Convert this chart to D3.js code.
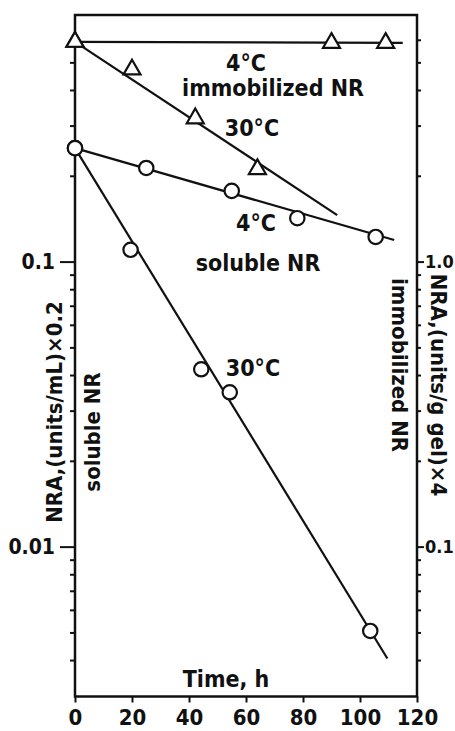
<!DOCTYPE html>
<html>
<head>
<meta charset="utf-8">
<script src="https://cdn.jsdelivr.net/npm/d3@7"></script>
<style>
    html, body { margin: 0; padding: 0; background: #fff; }
    svg { display: block; }
    text { font-family: "Liberation Sans Narrow", "DejaVu Sans Condensed", sans-serif; font-weight: bold; fill: #111; }
    .frame { fill: none; stroke: #111; stroke-width: 2.5; }
    .fit { fill: none; stroke: #111; stroke-width: 2.2; }
    .marker { fill: #fff; stroke: #111; stroke-width: 2.2; }
    .axis path { display: none; }
    .axis line { stroke: #111; stroke-width: 2; }
</style>
</head>
<body>
<script>
// time, h
var timeTicks = [0, 20, 40, 60, 80, 100, 120];

// soluble NR, NRA (units/mL) x 0.2  -> left axis, circles
var soluble4Time   = [0, 25, 55, 78, 105.5];
var soluble4Value  = [0.25, 0.213, 0.177, 0.142, 0.122];
var soluble30Time  = [0, 19.5, 44.3, 54.3, 103.6];
var soluble30Value = [0.25, 0.110, 0.0419, 0.0348, 0.00506];

// immobilized NR, NRA (units/g gel) x 4 -> right axis, triangles
var immob4Time   = [0, 90, 109];
var immob4Value  = [5.9, 5.85, 5.85];
var immob30Time  = [0, 20, 42.2, 64];
var immob30Value = [5.9, 4.72, 3.18, 2.11];

// fitted lines: [t0, v0, t1, v1]
var soluble4Fit  = [0, 0.25, 112, 0.119];
var soluble30Fit = [0, 0.25, 109.6, 0.00405];
var immob4Fit    = [0, 5.9, 115, 5.85];
var immob30Fit   = [0, 5.9, 92, 1.456];

// log axis ticks
var leftMajor  = [0.01, 0.1];
var leftMinor  = [0.004, 0.005, 0.006, 0.007, 0.008, 0.009,
                  0.02, 0.03, 0.04, 0.05, 0.06, 0.07, 0.08, 0.09,
                  0.2, 0.3, 0.4, 0.5, 0.6];
var rightMajor = [0.1, 1.0];
var rightMinor = [0.04, 0.05, 0.06, 0.07, 0.08, 0.09,
                  0.2, 0.3, 0.4, 0.5, 0.6, 0.7, 0.8, 0.9,
                  2, 3, 4, 5, 6];

var width = 455, height = 731;
var plotLeft = 75, plotRight = 417, plotTop = 15, plotBottom = 696.5;

var svg = d3.select('body').append('svg')
    .attr('width', width)
    .attr('height', height)
;

var x  = d3.scaleLinear().domain([0, 120]).range([plotLeft, plotRight]);
var yL = d3.scaleLog().domain([0.00298, 0.733]).range([plotBottom, plotTop]);
var yR = d3.scaleLog().domain([0.0298, 7.33]).range([plotBottom, plotTop]);

// axes
svg.append('g')
    .attr('class', 'axis')
    .attr('transform', `translate(0, ${ plotBottom })`)
    .call(d3.axisBottom(x).tickValues(timeTicks).tickSize(6).tickPadding(7).tickFormat(d3.format('d')))
    .selectAll('text')
    .style('font-size', '22px')
;

svg.append('g')
    .attr('class', 'axis')
    .attr('transform', `translate(${ plotLeft }, 0)`)
    .call(d3.axisLeft(yL).tickValues(leftMinor).tickSize(5).tickFormat(''))
;
svg.append('g')
    .attr('class', 'axis')
    .attr('transform', `translate(${ plotLeft }, 0)`)
    .call(d3.axisLeft(yL).tickValues(leftMajor).tickSize(15).tickPadding(5).tickFormat(d => d === 0.1 ? '0.1' : '0.01'))
    .selectAll('text')
    .style('font-size', '21px')
;

svg.append('g')
    .attr('class', 'axis')
    .attr('transform', `translate(${ plotRight }, 0)`)
    .call(d3.axisRight(yR).tickValues(rightMinor).tickSize(4).tickFormat(''))
;
svg.append('g')
    .attr('class', 'axis')
    .attr('transform', `translate(${ plotRight }, 0)`)
    .call(d3.axisRight(yR).tickValues(rightMajor).tickSize(7).tickPadding(1).tickFormat(d3.format('.1f')))
    .selectAll('text')
    .style('font-size', '18px')
;

svg.append('rect')
    .attr('class', 'frame')
    .attr('x', plotLeft)
    .attr('y', plotTop)
    .attr('width', plotRight - plotLeft)
    .attr('height', plotBottom - plotTop)
;

// fitted lines
var fits = [
    { f: soluble4Fit,  y: yL },
    { f: soluble30Fit, y: yL },
    { f: immob4Fit,    y: yR },
    { f: immob30Fit,   y: yR }
];

svg.selectAll('.fit')
    .data(fits)
    .enter().append('line')
    .attr('class', 'fit')
    .attr('x1', d => x(d.f[0]))
    .attr('y1', d => d.y(d.f[1]))
    .attr('x2', d => x(d.f[2]))
    .attr('y2', d => d.y(d.f[3]))
;

// markers
var circles = soluble4Time.map((t, i) => [t, soluble4Value[i]])
    .concat(soluble30Time.map((t, i) => [t, soluble30Value[i]]));

svg.selectAll('.circ')
    .data(circles)
    .enter().append('circle')
    .attr('class', 'marker circ')
    .attr('cx', d => x(d[0]))
    .attr('cy', d => yL(d[1]))
    .attr('r', 7.2)
;

var triangles = immob4Time.map((t, i) => [t, immob4Value[i]])
    .concat(immob30Time.map((t, i) => [t, immob30Value[i]]));

var tri = d3.symbol().type(d3.symbolTriangle).size(125);

svg.selectAll('.tri')
    .data(triangles)
    .enter().append('path')
    .attr('class', 'marker tri')
    .attr('d', tri)
    .attr('transform', d => `translate(${ x(d[0]) }, ${ yR(d[1]) })`)
;

// annotations
var labels = [
    { t: '4°C',            x: 246, y: 71,  s: 23 },
    { t: 'immobilized NR', x: 273, y: 96,  s: 23 },
    { t: '30°C',           x: 252, y: 136, s: 23 },
    { t: '4°C',            x: 256, y: 231, s: 23 },
    { t: 'soluble NR',     x: 258, y: 271, s: 23 },
    { t: '30°C',           x: 253, y: 376, s: 23 },
    { t: 'Time, h',        x: 226, y: 687, s: 23 }
];

svg.selectAll('.label')
    .data(labels)
    .enter().append('text')
    .attr('class', 'label')
    .attr('x', d => d.x)
    .attr('y', d => d.y)
    .attr('text-anchor', 'middle')
    .style('font-size', d => d.s + 'px')
    .text(d => d.t)
;

var sideLabels = [
    { t: 'NRA,(units/mL)×0.2',    x: 62,  y: 412, r: -90 },
    { t: 'soluble NR',            x: 100, y: 432, r: -90 },
    { t: 'immobilized NR',        x: 392, y: 365, r: 90 },
    { t: 'NRA,(units/g gel)×4',   x: 431, y: 385, r: 90 }
];

svg.selectAll('.side')
    .data(sideLabels)
    .enter().append('text')
    .attr('class', 'side')
    .attr('transform', d => `translate(${ d.x }, ${ d.y }) rotate(${ d.r })`)
    .attr('text-anchor', 'middle')
    .style('font-size', '22px')
    .text(d => d.t)
;
</script>
</body>
</html>
